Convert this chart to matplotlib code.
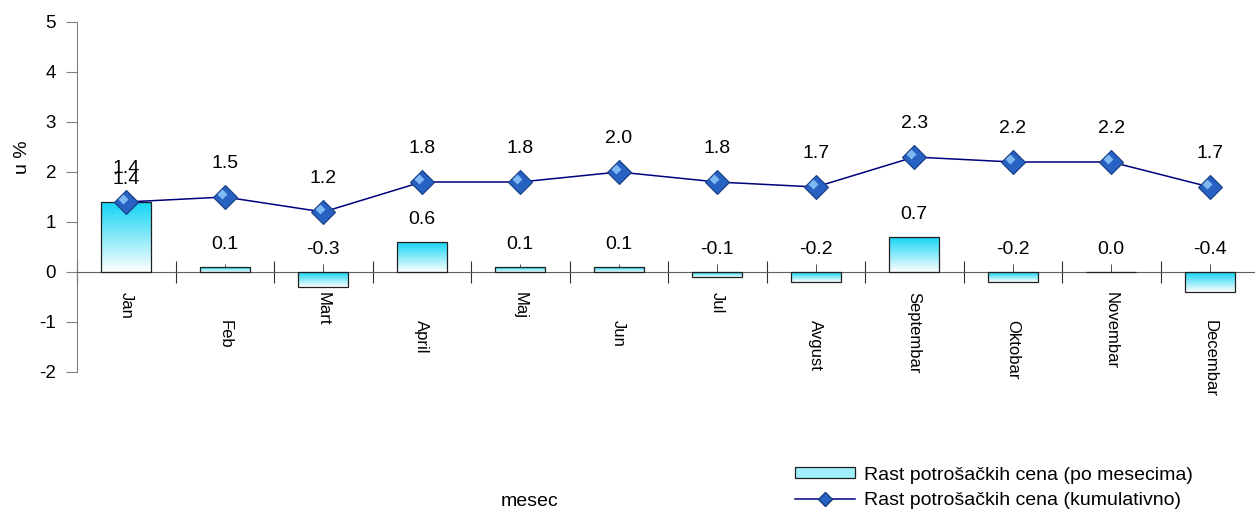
import numpy as np
import matplotlib.pyplot as plt
from matplotlib.colors import LinearSegmentedColormap
from matplotlib.patches import Rectangle
from matplotlib.lines import Line2D
import matplotlib.transforms as mtransforms

plt.rcParams['font.family'] = ['Liberation Sans', 'DejaVu Sans']
plt.rcParams['axes.unicode_minus'] = False

months = ['Jan', 'Feb', 'Mart', 'April', 'Maj', 'Jun', 'Jul', 'Avgust',
          'Septembar', 'Oktobar', 'Novembar', 'Decembar']
monthly = [1.4, 0.1, -0.3, 0.6, 0.1, 0.1, -0.1, -0.2, 0.7, -0.2, 0.0, -0.4]
cumulative = [1.4, 1.5, 1.2, 1.8, 1.8, 2.0, 1.8, 1.7, 2.3, 2.2, 2.2, 1.7]
label_monthly = 'Rast potrošačkih cena (po mesecima)'
label_cumul = 'Rast potrošačkih cena (kumulativno)'

W, H = 1255, 519
fig = plt.figure(figsize=(W / 100, H / 100), dpi=100)
ax = fig.add_axes([77 / W, (H - 372) / H, (1259 - 77) / W, 350 / H])

x = np.arange(len(months))
bar_w = 0.51
cmap = LinearSegmentedColormap.from_list('grad', ['#ffffff', '#14d4f4'])
grad = np.linspace(0, 1, 256).reshape(-1, 1)

bars = ax.bar(x, monthly, width=bar_w, facecolor='none', edgecolor='#202020',
              linewidth=0.9, zorder=3)
for b in bars:
    x0, y0 = b.get_x(), b.get_y()
    w, h = b.get_width(), b.get_height()
    lo, hi = min(y0, y0 + h), max(y0, y0 + h)
    if hi - lo <= 0:
        continue
    im = ax.imshow(grad, cmap=cmap, extent=[x0, x0 + w, lo, hi], origin='lower',
                   aspect='auto', zorder=2)
    clip = Rectangle((x0, lo), w, hi - lo, transform=ax.transData)
    im.set_clip_path(clip)

ax.plot(x, cumulative, color='#000080', linewidth=1.1, zorder=4)
ax.plot(x, cumulative, linestyle='none', marker='D', markersize=12.5,
        markerfacecolor='#2762c2', markeredgecolor='#173d80', markeredgewidth=0.8,
        zorder=5)
hl = mtransforms.offset_copy(ax.transData, fig=fig, x=-2, y=2, units='points')
ax.plot(x, cumulative, linestyle='none', marker='D', markersize=5,
        markerfacecolor='#7fb8f2', markeredgecolor='none', transform=hl, zorder=6)

for i, v in enumerate(monthly):
    ax.annotate(f'{v:.1f}', (x[i], max(v, 0)), xytext=(0, 16), textcoords='offset points',
                ha='center', va='center', fontsize=14, zorder=7)
for i, v in enumerate(cumulative):
    ax.annotate(f'{v:.1f}', (x[i], v), xytext=(0, 24), textcoords='offset points',
                ha='center', va='center', fontsize=14, zorder=7)

ax.set_xlim(-0.5, 11.5)
ax.set_ylim(-2, 5)
ax.set_yticks(range(-2, 6))
ax.tick_params(axis='y', direction='out', length=8, color='#808080', pad=7, labelsize=13.5)

for s in ['top', 'right']:
    ax.spines[s].set_visible(False)
ax.spines['left'].set_color('#808080')
ax.spines['bottom'].set_position(('data', 0))
ax.spines['bottom'].set_color('#606060')

ax.set_xticks(np.arange(-0.5, 12, 1.0))
ax.set_xticklabels([])
ax.tick_params(axis='x', which='major', direction='inout', length=16, color='#303030')
ax.set_xticks(x, minor=True)
ax.tick_params(axis='x', which='minor', direction='in', length=6, color='#303030',
               labelbottom=False)

# month labels, staggered like the original
for i, m in enumerate(months):
    drop = 14.5 if i % 2 == 0 else 34.5
    ax.annotate(m, (x[i], 0), xytext=(0, -drop), textcoords='offset points',
                rotation=270, ha='center', va='top', fontsize=12)

fig.text(23 / W, 1 - 157 / H, 'u %', rotation=90, ha='center', va='center', fontsize=14)
fig.text(530 / W, 1 - 502 / H, 'mesec', ha='center', va='center', fontsize=14)

handles = [
    Rectangle((0, 0), 1, 1, facecolor='#9ff0fc', edgecolor='#202020', linewidth=0.9),
    Line2D([], [], color='#000080', linewidth=1.1, marker='D', markersize=7,
           markerfacecolor='#2762c2', markeredgecolor='#173d80'),
]
fig.legend(handles, [label_monthly, label_cumul], loc='center left',
           bbox_to_anchor=(795 / W, 1 - 488 / H), frameon=False, fontsize=14,
           borderpad=0, borderaxespad=0, handlelength=3.1, handleheight=0.5,
           handletextpad=0.45, labelspacing=0.45)

fig.savefig('out.png', dpi=100)
